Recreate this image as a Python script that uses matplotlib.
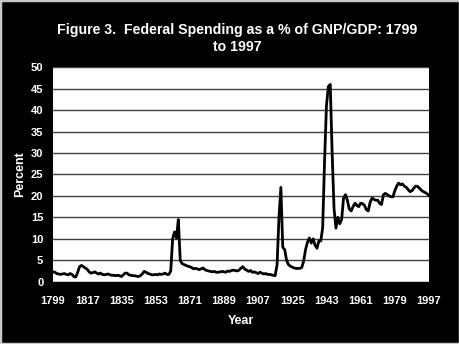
import matplotlib
matplotlib.use("Agg")
import matplotlib.pyplot as plt
from matplotlib.patches import Rectangle

# federal spending as % of GNP/GDP, one value per year 1799..1997
years = list(range(1799, 1998))
spending = [
    2.3, 2.2, 1.9, 1.8, 1.7, 1.8, 1.9, 1.7, 1.6, 1.9, 1.7,            # 1799-1809
    1.2, 1.1, 2.2, 3.5, 3.8, 3.5, 3.2, 2.9, 2.3, 2.0,                  # 1810s
    2.1, 2.3, 2.0, 1.8, 2.0, 1.7, 1.6, 1.7, 1.8, 1.6,                  # 1820s
    1.5, 1.5, 1.4, 1.5, 1.4, 1.2, 1.6, 2.0, 2.0, 1.6,                  # 1830s
    1.5, 1.4, 1.4, 1.3, 1.2, 1.4, 1.8, 2.4, 2.2, 1.9,                  # 1840s
    1.8, 1.6, 1.6, 1.7, 1.6, 1.8, 1.7, 1.8, 2.0, 1.7,                  # 1850s
    1.7, 2.5, 10.0, 11.6, 10.2, 14.5, 5.0, 4.2, 4.0, 3.8,              # 1860s
    3.6, 3.5, 3.3, 3.0, 3.1, 3.0, 2.8, 3.0, 3.2, 2.8,                  # 1870s
    2.6, 2.5, 2.4, 2.3, 2.4, 2.2, 2.2, 2.3, 2.4, 2.3,                  # 1880s
    2.2, 2.5, 2.4, 2.6, 2.7, 2.6, 2.5, 2.7, 3.2, 3.5,                  # 1890s
    2.9, 2.7, 2.4, 2.6, 2.2, 2.3, 2.1, 1.9, 2.2, 2.0,                  # 1900s
    1.8, 1.9, 1.7, 1.7, 1.6, 1.5, 1.4, 4.0, 15.0, 22.0,                # 1910s
    8.0, 7.5, 5.0, 4.0, 3.6, 3.4, 3.2, 3.1, 3.1, 3.1,                  # 1920s
    3.3, 4.8, 7.5, 9.2, 10.2, 9.0, 10.0, 8.5, 7.8, 9.5,                # 1930s
    9.5, 12.5, 28.0, 41.0, 45.5, 46.0, 30.0, 17.0, 12.5, 15.0,         # 1940s
    13.5, 14.5, 19.5, 20.3, 19.0, 17.0, 16.5, 17.5, 18.3, 17.8,        # 1950s
    17.5, 18.3, 18.2, 17.8, 16.8, 16.5, 18.5, 19.5, 19.2, 19.0,        # 1960s
    19.0, 18.3, 18.0, 20.3, 20.6, 20.3, 20.0, 19.8, 19.8, 21.2,        # 1970s
    22.3, 23.0, 22.6, 22.8, 22.3, 22.0, 21.5, 21.0, 21.2, 21.8,        # 1980s
    22.3, 22.2, 21.8, 21.3, 21.0, 20.8, 20.5, 20.1,                    # 1990-1997
]
x_ticks = list(range(1799, 1998, 18))
y_ticks = list(range(0, 51, 5))

plt.rcParams['font.family'] = ['Liberation Sans', 'DejaVu Sans']

fig = plt.figure(figsize=(4.6, 3.44), dpi=100, facecolor='black')
fig.patches.append(Rectangle((0, 0), 1, 1, transform=fig.transFigure,
                             fill=False, edgecolor='#c8c8c8', linewidth=2.5))

ax = fig.add_axes([0.1152, 0.1811, 0.8174, 0.6233])
ax.set_facecolor('white')
ax.plot(years, spending, color='black', linewidth=2)

ax.set_xlim(1799, 1997)
ax.set_ylim(0, 50)
ax.set_xticks(x_ticks)
ax.set_yticks(y_ticks)
ax.tick_params(colors='white', length=0, labelsize=8)
ax.tick_params(axis='x', pad=10)
ax.tick_params(axis='y', pad=7)
for lbl in ax.get_xticklabels() + ax.get_yticklabels():
    lbl.set_fontweight('bold')
    lbl.set_color('white')

ax.grid(axis='y', color='#404040', linewidth=1)
ax.set_axisbelow(True)
for s in ax.spines.values():
    s.set_visible(False)
ax.spines['bottom'].set_visible(True)
ax.spines['bottom'].set_color('black')

ax.set_xlabel('Year', color='white', fontweight='bold', fontsize=9, labelpad=7)
ax.set_ylabel('Percent', color='white', fontweight='bold', fontsize=9, labelpad=3)

fig.text(0.515, 0.888, 'Figure 3.  Federal Spending as a % of GNP/GDP: 1799\nto 1997',
         color='white', fontweight='bold', fontsize=10.2, ha='center', va='center',
         linespacing=1.2)

fig.savefig('out.png', dpi=100, facecolor='black')
